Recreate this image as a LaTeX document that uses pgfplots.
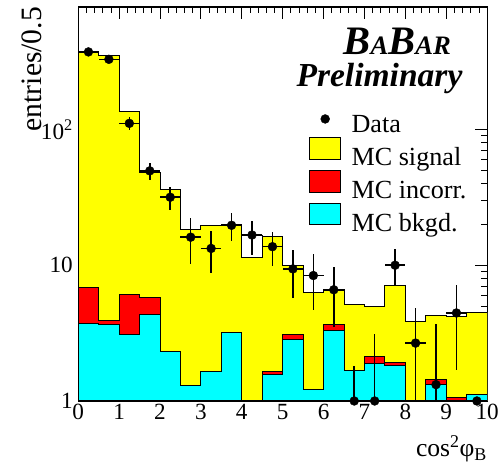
\documentclass[border=0pt]{standalone}
\usepackage{pgfplots}
\pgfplotsset{compat=1.18}
\usepackage{fontspec}
\setmainfont{Liberation Serif}
\definecolor{hyellow}{RGB}{255,255,0}
\definecolor{hred}{RGB}{255,0,0}
\definecolor{hcyan}{RGB}{0,255,255}

\begin{document}
\begin{tikzpicture}
\begin{axis}[
  scale only axis, width=413bp, height=398bp,
  xmin=0, xmax=10, ymin=1, ymax=800, ymode=log,
  xtick={0,...,10}, minor x tick num=4,
  ytick={1,10,100}, yticklabels={1,10,10\textsuperscript{2}},
  tick align=inside,
  major tick length=12bp, minor tick length=6bp,
  every tick/.style={black, line width=0.8bp},
  axis line style={line width=1.2bp},
  /pgf/number format/assume math mode=true,
  tick label style={font=\fontsize{23.5}{23.5}\selectfont},
  yticklabel style={xshift=-2bp},
  xlabel={cos\textsuperscript{2}φ\textsubscript{B}},
  xlabel style={font=\fontsize{26}{26}\selectfont, inner sep=0pt, at={([yshift=-35bp]rel axis cs:1,0)}, anchor=north east},
  ylabel={entries/0.5},
  ylabel style={font=\fontsize{30}{30}\selectfont, inner sep=0pt, at={([xshift=-36bp]rel axis cs:0,1)}, anchor=south east},
  legend style={draw=none, fill=none, at={(0.565,0.728)}, anchor=north west,
    font=\fontsize{26.5}{30}\selectfont, row sep=2bp, inner sep=0pt,
    nodes={inner sep=1bp}},
  legend cell align=left,
]
% legend entries
\addlegendimage{legend image code/.code={\fill[black] (15.5bp,6bp) circle (4.5bp); \path (41bp,0);}}
\addlegendentry{Data}
\addlegendimage{legend image code/.code={\draw[fill=hyellow, line width=0.8bp] (0,-2bp) rectangle (31bp,20bp); \path (41bp,0);}}
\addlegendentry{MC signal}
\addlegendimage{legend image code/.code={\draw[fill=hred, line width=0.8bp] (0,-2bp) rectangle (31bp,20bp); \path (41bp,0);}}
\addlegendentry{MC incorr.}
\addlegendimage{legend image code/.code={\draw[fill=hcyan, line width=0.8bp] (0,-2bp) rectangle (31bp,20bp); \path (41bp,0);}}
\addlegendentry{MC bkgd.}

% total outline
\addplot[const plot, draw=black, line width=1bp, fill=white, forget plot] coordinates {
 (0,373) (0.5,353) (1,135) (1.5,48) (2,36.4) (2.5,18.4) (3,19.6) (3.5,19.5) (4,16.7) (4.5,16.2)
 (5,9.9) (5.5,6.3) (6,6.6) (6.5,5.1) (7,4.97) (7.5,7.1) (8,3.84) (8.5,4.23) (9,4.18) (9.5,4.49) (10,4.49)
} \closedcycle;
% MC signal (cumulative)
\addplot[const plot, draw=black, line width=1bp, fill=hyellow, forget plot] coordinates {
 (0,373) (0.5,353) (1,135) (1.5,48) (2,36.4) (2.5,18.4) (3,19.6) (3.5,19.5) (4,11.5) (4.5,16.2)
 (5,9.9) (5.5,6.3) (6,6.6) (6.5,5.1) (7,4.97) (7.5,7.1) (8,3.84) (8.5,4.23) (9,4.18) (9.5,4.49) (10,4.49)
} \closedcycle;
% MC incorr. (cumulative)
\addplot[const plot, draw=black, line width=1bp, fill=hred, forget plot] coordinates {
 (0,6.83) (0.5,3.91) (1,6.07) (1.5,5.75) (2,2.31) (2.5,1.30) (3,1.64) (3.5,3.2) (4,1) (4.5,1.64)
 (5,3.09) (5.5,1.22) (6,3.65) (6.5,1.68) (7,2.14) (7.5,1.93) (8,1) (8.5,1.44) (9,1.06) (9.5,1.12) (10,1.12)
} \closedcycle;
% MC bkgd.
\addplot[const plot, draw=black, line width=1bp, fill=hcyan, forget plot] coordinates {
 (0,3.70) (0.5,3.64) (1,3.11) (1.5,4.37) (2,2.31) (2.5,1.30) (3,1.64) (3.5,3.2) (4,1) (4.5,1.56)
 (5,2.86) (5.5,1.22) (6,3.30) (6.5,1.68) (7,1.88) (7.5,1.83) (8,1) (8.5,1.32) (9,1) (9.5,1.12) (10,1.12)
} \closedcycle;

% data
\addplot[only marks, mark=*, mark size=4.5bp, black, forget plot,
  error bars/.cd, x dir=both, x explicit, y dir=both, y explicit,
  error mark=none, error bar style={line width=1.6bp, black}]
coordinates {
 (0.25,373) +- (0.25,19)
 (0.75,329) +- (0.25,18)
 (1.25,111) += (0.25,13) -= (0.25,12)
 (1.75,49.6) +- (0.25,7)
 (2.25,31.7) +- (0.25,6)
 (2.75,16.1) += (0.25,6.2) -= (0.25,5.9)
 (3.25,13.3) += (0.25,4.5) -= (0.25,4.6)
 (3.75,19.7) += (0.25,4.5) -= (0.25,4.6)
 (4.25,16.7) += (0.25,4.6) -= (0.25,4.8)
 (4.75,13.7) +- (0.25,3.9)
 (5.25,9.4) += (0.25,3.6) -= (0.25,3.7)
 (5.75,8.4) +- (0.25,3.7)
 (6.25,6.6) +- (0.25,3.1)
 (6.75,1) += (0.25,0.8) -= (0.25,0.99)
 (7.25,1) += (0.25,2.1) -= (0.25,0.99)
 (7.75,10.0) += (0.25,3.1) -= (0.25,2.8)
 (8.25,2.67) += (0.25,2.2) -= (0.25,2.6)
 (8.75,1.32) += (0.25,2.4) -= (0.25,1.3)
 (9.25,4.45) += (0.25,2.75) -= (0.25,2.76)
 (9.75,1) +- (0.25,0)
};

\node[anchor=base east, font=\bfseries\itshape, inner sep=0pt] at (rel axis cs:0.912,0.880)
  {\fontsize{41}{41}\selectfont B\fontsize{27}{27}\selectfont A\fontsize{41}{41}\selectfont B\fontsize{27}{27}\selectfont AR};
\node[anchor=base east, font=\bfseries\itshape\fontsize{34}{34}\selectfont, inner sep=0pt] at (rel axis cs:0.940,0.798) {Preliminary};
\end{axis}
\path (current axis.south west) ++(-79bp,-65bp);
\path (current axis.north east) ++(10bp,7bp);
\end{tikzpicture}
\end{document}
